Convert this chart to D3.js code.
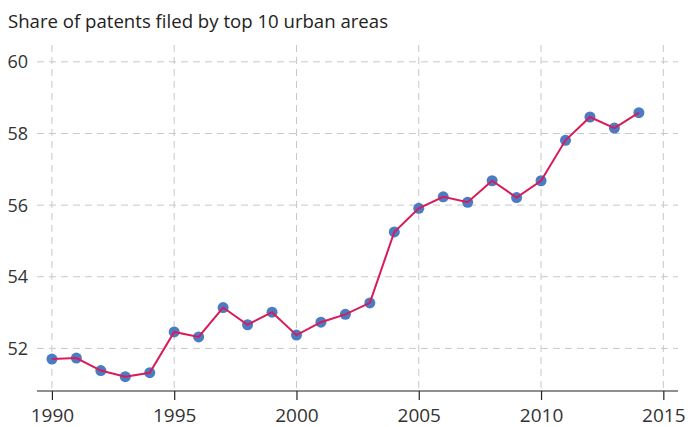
<!DOCTYPE html>
<html><head><meta charset="utf-8">
<script src="https://cdn.jsdelivr.net/npm/d3@7"></script>
<style>body{margin:0;background:#fff}svg{display:block}text{font-family:"Open Sans","Noto Sans",sans-serif}</style>
</head><body><svg id="c" width="691" height="427"></svg>
<script>
const title = "Share of patents filed by top 10 urban areas";
const years = [1990,1991,1992,1993,1994,1995,1996,1997,1998,1999,2000,2001,2002,2003,2004,2005,2006,2007,2008,2009,2010,2011,2012,2013,2014];
const shares = [51.70,51.73,51.38,51.21,51.32,52.46,52.32,53.14,52.66,53.01,52.37,52.73,52.95,53.27,55.25,55.91,56.23,56.08,56.68,56.21,56.68,57.81,58.46,58.15,58.58];
const xTicks = [1990,1995,2000,2005,2010,2015];
const yTicks = [52,54,56,58,60];

const svg = d3.select("#c");
const x = d3.scaleLinear().domain([1989.39, 2015.6]).range([37, 678]);
const y = d3.scaleLinear().domain([50.81, 60.47]).range([391, 45]);

svg.append("text").attr("x", 8).attr("y", 28).attr("font-size", 18.6).attr("fill", "#222").text(title);

// grid
svg.append("g").selectAll("line").data(yTicks).join("line")
  .attr("x1", 37).attr("x2", 678).attr("y1", d => y(d)).attr("y2", d => y(d))
  .attr("stroke", "#c8c8c8").attr("stroke-width", 1).attr("stroke-dasharray", "7,5");
svg.append("g").selectAll("line").data(xTicks).join("line")
  .attr("x1", d => x(d)).attr("x2", d => x(d)).attr("y1", 45).attr("y2", 391)
  .attr("stroke", "#c8c8c8").attr("stroke-width", 1).attr("stroke-dasharray", "7,5");

// y labels
svg.append("g").selectAll("text").data(yTicks).join("text")
  .attr("x", 28).attr("y", d => y(d)).attr("dy", "0.36em").attr("text-anchor", "end")
  .attr("font-size", 18).attr("fill", "#333").text(d => d);

// x axis
const xa = svg.append("g").attr("transform", "translate(0,391)")
  .call(d3.axisBottom(x).tickValues(xTicks).tickFormat(d3.format("d")).tickSize(9).tickPadding(9));
xa.select(".domain").attr("stroke", "#222").attr("stroke-width", 1.2).attr("d", "M37,0H678");
xa.selectAll(".tick line").attr("stroke", "#222").attr("stroke-width", 1.2);
xa.selectAll(".tick text").attr("font-size", 19).attr("fill", "#333").attr("font-family", "'Open Sans','Noto Sans',sans-serif");

// line
const line = d3.line().x((d, i) => x(years[i])).y(d => y(d));
svg.append("g").selectAll("circle").data(shares).join("circle")
  .attr("cx", (d, i) => x(years[i])).attr("cy", d => y(d)).attr("r", 5.5).attr("fill", "#4a7cc3");
svg.append("path").datum(shares).attr("d", line).attr("fill", "none")
  .attr("stroke", "#d81b5a").attr("stroke-width", 2);
</script></body></html>
